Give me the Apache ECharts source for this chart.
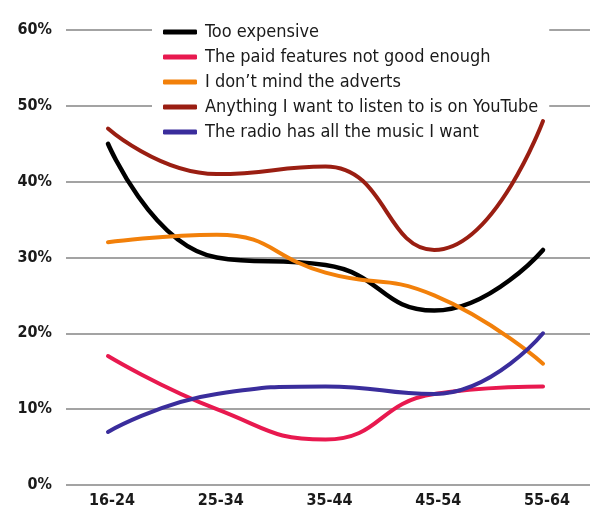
<!DOCTYPE html>
<html>
<head>
<meta charset="utf-8">
<script src="https://cdn.jsdelivr.net/npm/echarts@6/dist/echarts.min.js"></script>
<style>
  html, body { margin: 0; padding: 0; background: #fff; }
  #chart { width: 595px; height: 509px; }
</style>
</head>
<body>
<div id="chart"></div>
<script>
// Age groups along the x axis
const ageGroups = ['16-24', '25-34', '35-44', '45-54', '55-64'];

// Share of respondents giving each reason (%)
const tooExpensive = [45, 30, 29, 23, 31];
const paidFeatures = [17, 10, 6, 12, 13];
const dontMindAdverts = [32, 33, 28, 25, 16];
const onYouTube = [47, 41, 42, 31, 48];
const radioHasMusic = [7, 12, 13, 12, 20];

const seriesNames = [
  'Too expensive',
  'The paid features not good enough',
  'I don\u2019t mind the adverts',
  'Anything I want to listen to is on YouTube',
  'The radio has all the music I want'
];
const seriesValues = [tooExpensive, paidFeatures, dontMindAdverts, onYouTube, radioHasMusic];
const seriesColors = ['#000000', '#e8194f', '#f2800a', '#9a1e12', '#3a2d9c'];

// Percent ticks on the y axis
const yTicks = [0, 10, 20, 30, 40, 50, 60];

const chart = echarts.init(document.getElementById('chart'), null, { renderer: 'canvas' });

const labelFont = {
  fontFamily: 'DejaVu Sans Condensed',
  fontWeight: 'bold',
  fontSize: 16,
  color: '#1a1a1a'
};

chart.setOption({
  animation: false,
  backgroundColor: '#ffffff',
  grid: { left: 66, right: 5, top: 30, bottom: 23, containLabel: false },
  legend: {
    orient: 'vertical',
    left: 152,
    top: 14,
    z: 1,
    padding: [8, 11, 8, 11],
    backgroundColor: '#ffffff',
    itemGap: 5,
    itemWidth: 34,
    itemHeight: 5,
    icon: 'roundRect',
    textStyle: {
      fontFamily: 'DejaVu Sans Condensed',
      fontSize: 18,
      lineHeight: 20,
      color: '#1a1a1a',
      padding: [0, 0, 0, 3]
    },
    data: seriesNames
  },
  xAxis: {
    type: 'value',
    min: -0.386,
    max: 4.432,
    axisLine: { show: false },
    axisTick: { show: false },
    splitLine: { show: false },
    axisLabel: {
      customValues: ageGroups.map((_, i) => i),
      formatter: v => ageGroups[Math.round(v)] || '',
      margin: 8,
      padding: [0, 0, 0, 8],
      ...labelFont
    }
  },
  yAxis: {
    type: 'value',
    min: yTicks[0],
    max: yTicks[yTicks.length - 1],
    interval: 10,
    axisLine: { show: false },
    axisTick: { show: false },
    axisLabel: {
      margin: 14,
      formatter: v => v + '%',
      ...labelFont
    },
    splitLine: { lineStyle: { color: '#a3a3a3', width: 2 } }
  },
  series: seriesNames.map((name, k) => ({
    name,
    type: 'line',
    z: 3,
    smooth: 0.5,
    showSymbol: false,
    symbol: 'none',
    color: seriesColors[k],
    itemStyle: { color: seriesColors[k] },
    lineStyle: { width: k === 0 ? 4.5 : 4, color: seriesColors[k], cap: 'round' },
    data: seriesValues[k].map((v, i) => [i, v])
  }))
});
</script>
</body>
</html>
